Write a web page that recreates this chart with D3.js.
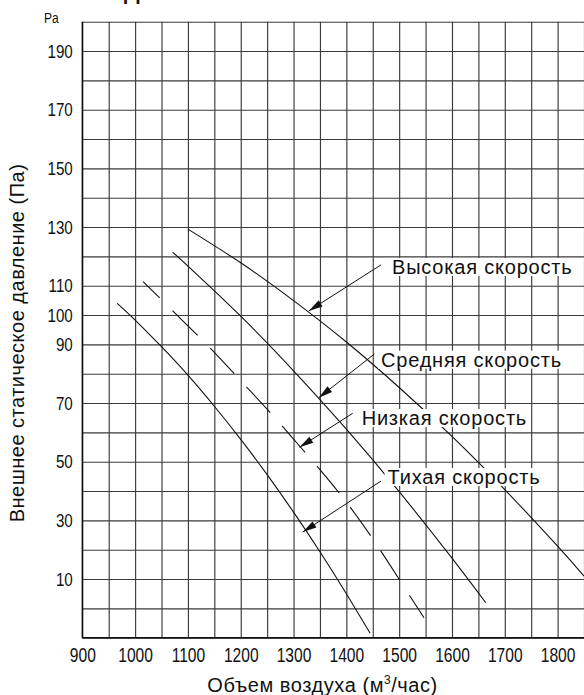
<!DOCTYPE html>
<html>
<head>
<meta charset="utf-8">
<script src="https://cdn.jsdelivr.net/npm/d3@7"></script>
<style>
  html, body { margin: 0; padding: 0; background: #fff; }
  svg { display: block; }
</style>
</head>
<body>
<svg id="chart" width="584" height="695"></svg>
<script>
// ---------- data ----------
const xTickValues = [900, 1000, 1100, 1200, 1300, 1400, 1500, 1600, 1700, 1800];
const yTickValues = [190, 170, 150, 130, 110, 100, 90, 70, 50, 30, 10];
const xGridValues = d3.range(900, 1851, 50);
const yGridValues = d3.range(-10, 201, 10);

// airflow (m3/h) and external static pressure (Pa) per fan speed
const highFlow    = [1100, 1200, 1300, 1400, 1500, 1600, 1700, 1800, 1850];
const highPress   = [129.3, 117.8, 104.9, 90.8, 75.3, 58.6, 40.5, 21.2, 11];
const mediumFlow  = [1071, 1100, 1200, 1300, 1400, 1500, 1600, 1664];
const mediumPress = [121.4, 116.7, 99.6, 81.0, 61.1, 39.8, 17.1, 1.9];
const lowFlow     = [1015, 1050, 1100, 1150, 1200, 1250, 1300, 1350, 1400, 1450, 1500, 1547];
const lowPress    = [111.4, 105.2, 96.3, 87.3, 77.6, 67.9, 57.7, 47.3, 36.2, 23.7, 9.9, -3.2];
const quietFlow   = [966, 1000, 1050, 1100, 1150, 1200, 1250, 1300, 1350, 1400, 1445];
const quietPress  = [104, 98.3, 89.2, 79.5, 68.9, 57.6, 45.6, 32.8, 19.3, 5.0, -8.5];

const seriesNames = ["Высокая скорость", "Средняя скорость", "Низкая скорость", "Тихая скорость"];
// label anchor (flow, pressure), arrow start and arrow tip, in data units
const labelFlow   = [1486.5, 1465.6, 1429, 1478];
const labelPress  = [114, 82.4, 62.5, 42.4];
const arrowFromFlow  = [1465.6, 1453, 1412, 1465.6];
const arrowFromPress = [117.1, 86.7, 66.5, 43.4];
const arrowToFlow    = [1328.9, 1347.8, 1311.3, 1317.5];
const arrowToPress   = [101.4, 71.8, 54.9, 26];

const xTitle = "Объем воздуха (м";
const yTitle = "Внешнее статическое давление (Па)";
const unitLabel = "Pa";

// ---------- layout ----------
const svg = d3.select("#chart");
const pL = 82.3, pR = 584, pT = 21.7, pB = 637.7;
const x = d3.scaleLinear().domain([900, 1850]).range([pL, pR]);
const y = d3.scaleLinear().domain([-10, 200]).range([pB, pT]);

const regular = "'Liberation Sans', Arial, Helvetica, sans-serif";
const condense = 0.8;

svg.append("defs").append("clipPath").attr("id", "plotclip")
  .append("rect").attr("x", pL).attr("y", pT).attr("width", pR - pL).attr("height", pB - pT);

// grid via axes
const gx = svg.append("g").attr("transform", `translate(0,${pB})`)
  .call(d3.axisBottom(x).tickValues(xGridValues).tickSize(-(pB - pT)).tickFormat(""));
gx.select(".domain").remove();
gx.selectAll("line").attr("stroke", "#3a3a3a").attr("stroke-width", 1.15);

const gy = svg.append("g").attr("transform", `translate(${pL},0)`)
  .call(d3.axisLeft(y).tickValues(yGridValues).tickSize(-(pR - pL)).tickFormat(""));
gy.select(".domain").remove();
gy.selectAll("line").attr("stroke", "#3a3a3a").attr("stroke-width", 1.15);

// axis lines
svg.append("line").attr("x1", pL).attr("x2", pL).attr("y1", pT).attr("y2", pB)
  .attr("stroke", "#111").attr("stroke-width", 1.4);
svg.append("line").attr("x1", pL).attr("x2", pR).attr("y1", pB).attr("y2", pB)
  .attr("stroke", "#111").attr("stroke-width", 1.4);

// tick labels (condensed look)
const ax = svg.append("g").attr("transform", `translate(0,${pB})`)
  .call(d3.axisBottom(x).tickValues(xTickValues).tickSize(0).tickPadding(10).tickFormat(d3.format("d")));
ax.select(".domain").remove();
ax.selectAll("text").attr("font-family", regular).attr("font-size", 19.5).attr("fill", "#111")
  .attr("transform", `scale(${condense},1)`);

const ay = svg.append("g").attr("transform", `translate(${pL},0)`)
  .call(d3.axisLeft(y).tickValues(yTickValues).tickSize(0).tickFormat(d3.format("d")));
ay.select(".domain").remove();
ay.selectAll("text").attr("font-family", regular).attr("font-size", 19).attr("fill", "#111")
  .attr("x", -9.5 / condense).attr("transform", `scale(${condense},1)`);

svg.append("text").attr("transform", `translate(44,23) scale(${condense},1)`).text(unitLabel)
  .attr("font-family", regular).attr("font-size", 15).attr("fill", "#111");

// cut-off heading glyph at the very top
svg.append("text").attr("x", 124).attr("y", -1).text("Д")
  .attr("font-family", regular).attr("font-weight", "bold").attr("font-size", 22).attr("fill", "#111");

// curves
const line = d3.line().x(d => x(d[0])).y(d => y(d[1])).curve(d3.curveNatural);
const curves = [
  { f: highFlow, p: highPress, dash: null },
  { f: mediumFlow, p: mediumPress, dash: null },
  { f: lowFlow, p: lowPress, dash: "35 18", offset: 11.4 },
  { f: quietFlow, p: quietPress, dash: null }
];
const cg = svg.append("g").attr("clip-path", "url(#plotclip)");
curves.forEach(c => {
  const pts = c.f.map((v, i) => [v, c.p[i]]);
  const path = cg.append("path").attr("d", line(pts)).attr("fill", "none")
    .attr("stroke", "#111").attr("stroke-width", 1.1);
  if (c.dash) path.attr("stroke-dasharray", c.dash).attr("stroke-dashoffset", c.offset);
});

// labels with white backing and arrows
const lg = svg.append("g");
seriesNames.forEach((name, i) => {
  const g = lg.append("g");
  const rect = g.append("rect").attr("fill", "#fff");
  const t = g.append("text").attr("x", x(labelFlow[i])).attr("y", y(labelPress[i]))
    .attr("font-family", regular).attr("font-size", 20).attr("letter-spacing", 0.8)
    .attr("fill", "#111").text(name);
  const bb = t.node().getBBox();
  rect.attr("x", bb.x - 3).attr("y", bb.y + 2).attr("width", bb.width + 4).attr("height", bb.height - 4);

  const x1 = x(arrowFromFlow[i]), y1 = y(arrowFromPress[i]);
  const x2 = x(arrowToFlow[i]), y2 = y(arrowToPress[i]);
  g.append("line").attr("x1", x1).attr("y1", y1).attr("x2", x2).attr("y2", y2)
    .attr("stroke", "#111").attr("stroke-width", 1);
  const ang = Math.atan2(y2 - y1, x2 - x1);
  const L = 14, W = 3.6;
  const bx = x2 - L * Math.cos(ang), by = y2 - L * Math.sin(ang);
  const nx = -Math.sin(ang) * W, ny = Math.cos(ang) * W;
  g.append("path").attr("d", `M${x2},${y2}L${bx + nx},${by + ny}L${bx - nx},${by - ny}Z`).attr("fill", "#111");
});

// axis titles
const xt = svg.append("text").attr("x", 322.5).attr("y", 692).attr("text-anchor", "middle")
  .attr("font-family", regular).attr("font-size", 20).attr("letter-spacing", 0.55).attr("fill", "#111");
xt.append("tspan").text(xTitle);
xt.append("tspan").attr("font-size", 12).attr("dy", -8).text("3");
xt.append("tspan").attr("dy", 8).text("/час)");

svg.append("text").attr("transform", "translate(24,343) rotate(-90)").attr("text-anchor", "middle")
  .attr("font-family", regular).attr("font-size", 20).attr("letter-spacing", 0.5)
  .attr("fill", "#111").text(yTitle);
</script>
</body>
</html>
